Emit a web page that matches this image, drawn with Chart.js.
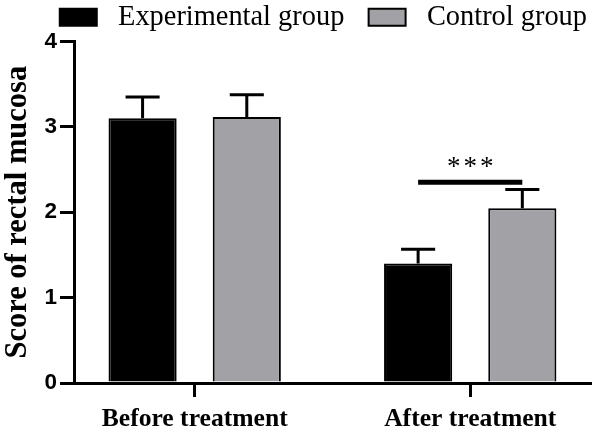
<!DOCTYPE html>
<html>
<head>
<meta charset="utf-8">
<script src="https://cdn.jsdelivr.net/npm/chart.js@4.4.1/dist/chart.umd.min.js"></script>
<style>
  html, body { margin: 0; padding: 0; background: #ffffff; }
  #c { display: block; }
</style>
</head>
<body>
<canvas id="c" width="600" height="434"></canvas>
<script>
// ---- data ----
const categories = ['Before treatment', 'After treatment'];
const seriesNames = ['Experimental group', 'Control group'];
const experimentalMeans = [3.10, 1.40];
const experimentalErrors = [0.25, 0.165];
const controlMeans = [3.115, 2.045];
const controlErrors = [0.26, 0.22];
const yTickValues = [0, 1, 2, 3, 4];
const yAxisTitle = 'Score of rectal mucosa';
const sigCategoryIndex = 1;
const sigLevel = 2.35;
const sigLabel = '***';

// ---- style ----
const SERIF = '"Liberation Serif", "Times New Roman", serif';
const SANS = '"Liberation Sans", Arial, sans-serif';
const GRAY = '#a2a1a6';

const errorBarPlugin = {
  id: 'errorBars',
  afterDatasetsDraw(chart) {
    const ctx = chart.ctx;
    const yScale = chart.scales.y;
    ctx.save();
    ctx.strokeStyle = '#000';
    ctx.lineCap = 'butt';
    chart.data.datasets.forEach((ds, i) => {
      const meta = chart.getDatasetMeta(i);
      meta.data.forEach((bar, j) => {
        const top = yScale.getPixelForValue(ds.data[j] + ds.errors[j]);
        const half = bar.width / 4;
        ctx.lineWidth = 3;
        ctx.beginPath();
        ctx.moveTo(bar.x, bar.y);
        ctx.lineTo(bar.x, top);
        ctx.moveTo(bar.x - half, top);
        ctx.lineTo(bar.x + half, top);
        ctx.stroke();
      });
    });
    // significance bracket
    const a = chart.getDatasetMeta(0).data[sigCategoryIndex];
    const b = chart.getDatasetMeta(1).data[sigCategoryIndex];
    const ly = yScale.getPixelForValue(sigLevel);
    ctx.lineWidth = 5;
    ctx.beginPath();
    ctx.moveTo(a.x, ly);
    ctx.lineTo(b.x, ly);
    ctx.stroke();
    ctx.fillStyle = '#000';
    ctx.font = '27px ' + SERIF;
    ctx.textAlign = 'center';
    ctx.textBaseline = 'alphabetic';
    if ('letterSpacing' in ctx) ctx.letterSpacing = '3px';
    ctx.fillText(sigLabel, (a.x + b.x) / 2 + 1.5, ly - 7);
    ctx.restore();
  }
};

new Chart(document.getElementById('c'), {
  type: 'bar',
  data: {
    labels: categories,
    datasets: [
      {
        label: seriesNames[0],
        data: experimentalMeans,
        errors: experimentalErrors,
        backgroundColor: '#000000',
        borderColor: '#000000',
        borderWidth: 2,
        categoryPercentage: 0.7564,
        barPercentage: 0.654
      },
      {
        label: seriesNames[1],
        data: controlMeans,
        errors: controlErrors,
        backgroundColor: GRAY,
        borderColor: '#000000',
        borderWidth: 2,
        categoryPercentage: 0.7564,
        barPercentage: 0.654
      }
    ]
  },
  options: {
    responsive: false,
    devicePixelRatio: 1,
    animation: false,
    layout: { padding: { left: 0, right: 10, top: 0, bottom: 0 } },
    plugins: {
      tooltip: { enabled: false },
      legend: {
        display: true,
        position: 'top',
        align: 'end',
        labels: {
          color: '#000',
          font: { family: SERIF, size: 28.4, weight: 'normal' },
          boxWidth: 37,
          boxHeight: 17,
          padding: 3,
          generateLabels(chart) {
            const items = Chart.defaults.plugins.legend.labels.generateLabels(chart);
            items.forEach((it, i) => {
              it.text = ' ' + it.text + (i < items.length - 1 ? '   ' : '');
            });
            return items;
          }
        }
      }
    },
    scales: {
      x: {
        type: 'category',
        offset: true,
        afterBuildTicks(scale) {
          scale._startValue = -0.438;
          scale._valueRange = 1.8727;
        },
        afterFit(scale) { scale.height = 51; },
        grid: {
          display: true,
          offset: false,
          drawOnChartArea: false,
          drawTicks: true,
          tickLength: 14,
          lineWidth: 3,
          color: '#000'
        },
        border: { display: true, color: '#000', width: 3 },
        ticks: {
          color: '#000',
          padding: 7,
          maxRotation: 0,
          font: { family: SERIF, size: 25.6, weight: 'bold' }
        }
      },
      y: {
        min: yTickValues[0],
        max: yTickValues[yTickValues.length - 1],
        afterBuildTicks(scale) { scale.ticks = yTickValues.map(v => ({ value: v })); },
        afterFit(scale) { scale.width = 74; },
        grid: {
          display: true,
          drawOnChartArea: false,
          drawTicks: true,
          tickLength: 14,
          lineWidth: 3,
          color: '#000'
        },
        border: { display: true, color: '#000', width: 3 },
        ticks: {
          color: '#000',
          padding: 3,
          font: { family: SANS, size: 22.5, weight: 'bold' }
        },
        title: {
          display: true,
          text: yAxisTitle,
          color: '#000',
          padding: 0,
          font: { family: SERIF, size: 30.5, weight: 'bold' }
        }
      }
    }
  },
  plugins: [errorBarPlugin]
});
</script>
</body>
</html>
